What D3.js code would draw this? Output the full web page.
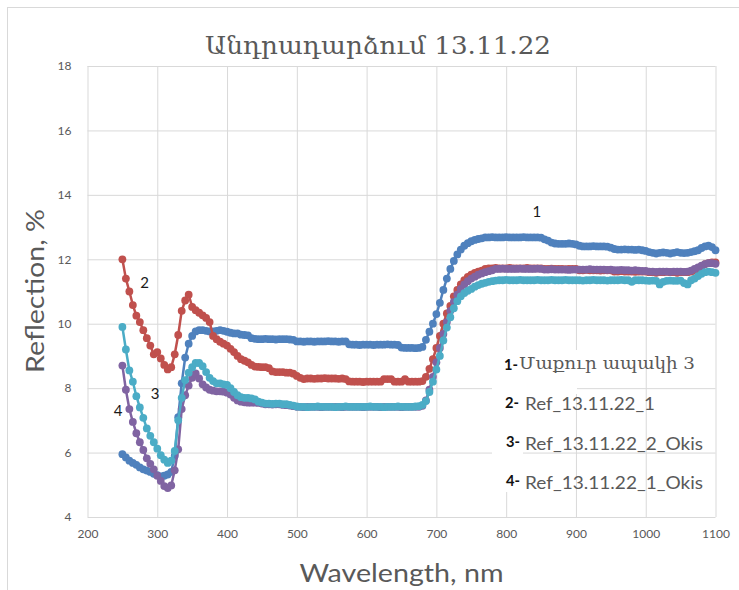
<!DOCTYPE html>
<html>
<head>
<meta charset="utf-8">
<script src="https://cdn.jsdelivr.net/npm/d3@7"></script>
<style>
  html, body { margin: 0; padding: 0; background: #fff; }
  svg { display: block; }
</style>
</head>
<body>
<svg id="chart" width="739" height="590"></svg>
<script>
// ---------------- DATA ----------------
const title = "Անդրադարձում 13.11.22";
const xTitle = "Wavelength, nm";
const yTitle = "Reflection, %";
const xTicks = [200, 300, 400, 500, 600, 700, 800, 900, 1000, 1100];
const yTicks = [4, 6, 8, 10, 12, 14, 16, 18];
const wavelengths = d3.range(250, 1101, 5);

const seriesNames = ["Մաքուր ապակի 3", "Ref_13.11.22_1", "Ref_13.11.22_2_Okis", "Ref_13.11.22_1_Okis"];

const s1 = [
  5.95,5.85,5.75,5.68,5.62,5.54,5.48,5.44,5.40,5.34,
  5.30,5.26,5.28,5.32,5.40,5.90,7.10,8.15,8.95,9.38,
  9.62,9.76,9.80,9.80,9.78,9.76,9.76,9.78,9.80,9.78,
  9.75,9.72,9.70,9.70,9.66,9.65,9.64,9.55,9.53,
  9.52,9.52,9.53,9.52,9.52,9.51,9.52,9.52,9.52,9.51,9.50,
  9.45,9.45,9.44,9.45,9.45,9.44,9.45,9.45,9.45,9.46,9.45,9.45,9.44,9.45,9.45,
  9.36,9.35,9.35,9.34,9.35,9.35,9.35,9.34,9.35,9.35,9.35,9.36,9.35,9.35,9.34,
  9.26,9.25,9.25,9.25,9.24,9.25,9.28,
  9.50,9.75,10.00,10.30,10.65,11.05,11.40,11.70,11.95,12.15,12.30,12.42,12.50,12.56,12.60,12.63,12.65,
  12.68,12.68,12.69,12.68,12.68,12.68,12.69,12.68,12.68,12.68,12.68,12.69,12.68,12.68,12.68,12.68,12.67,
  12.62,12.58,12.52,
  12.49,12.48,12.48,12.48,12.49,12.48,12.46,
  12.42,12.40,12.40,12.40,12.41,12.40,12.40,12.40,12.39,12.36,
  12.32,12.30,12.30,12.31,12.30,12.30,12.29,12.30,12.28,12.26,
  12.22,12.20,12.18,12.20,12.21,12.20,12.18,12.20,12.22,12.20,12.19,12.20,
  12.22,12.25,12.28,12.35,12.40,12.42,12.38,12.28
];

const s2 = [
  12.00,11.40,11.00,10.58,10.25,10.05,9.80,9.55,9.32,9.05,
  9.12,8.92,8.72,8.58,8.65,9.05,9.65,10.40,10.72,10.90,
  10.52,10.42,10.34,10.26,10.18,10.05,9.62,9.52,9.44,9.38,
  9.32,9.22,9.12,9.00,8.90,8.85,8.80,8.72,8.67,8.66,
  8.65,8.65,8.62,8.52,8.50,8.50,8.50,8.48,8.48,8.45,8.38,
  8.32,8.28,8.30,8.30,8.29,8.30,8.30,8.31,8.30,8.30,8.30,8.29,8.30,8.28,
  8.21,8.20,8.20,8.20,8.19,8.20,8.20,8.20,8.20,8.20,8.28,8.28,8.28,8.20,8.20,8.20,8.28,8.20,8.20,8.20,8.20,8.22,
  8.35,8.60,8.90,9.25,9.62,10.00,10.32,10.55,10.85,11.05,11.22,11.35,11.45,11.52,11.58,11.62,11.65,
  11.70,11.72,11.72,11.73,11.72,11.72,11.72,11.73,11.72,11.72,11.72,11.72,11.73,11.72,11.72,11.72,11.72,
  11.70,11.70,11.71,11.70,11.70,11.70,11.69,11.70,11.70,11.70,
  11.66,11.66,11.67,11.66,11.66,11.66,11.65,11.66,11.66,11.66,
  11.62,11.62,11.63,11.62,11.62,11.62,11.61,11.62,11.62,11.62,
  11.60,11.60,11.58,11.60,11.60,11.61,11.60,11.60,11.58,11.60,11.60,11.60,
  11.62,11.65,11.72,11.78,11.85,11.88,11.90,11.90
];

const s3 = [
  9.90,9.20,8.55,8.20,7.75,7.40,7.08,6.75,6.52,6.32,
  6.12,5.92,5.78,5.68,5.75,6.05,7.00,7.70,8.25,8.48,
  8.65,8.78,8.78,8.68,8.50,8.32,8.22,8.15,8.15,8.12,
  8.10,8.00,7.88,7.78,7.72,7.70,7.70,7.68,7.65,7.58,7.55,
  7.52,7.52,7.51,7.52,7.52,7.50,7.50,7.48,7.46,
  7.43,7.42,7.42,7.41,7.42,7.42,7.43,7.42,7.42,7.42,
  7.42,7.41,7.42,7.42,7.43,7.42,7.42,7.42,7.42,7.42,
  7.42,7.43,7.42,7.42,7.42,7.41,7.42,7.42,7.42,7.43,
  7.42,7.42,7.42,7.42,7.43,7.44,7.48,
  7.60,7.88,8.20,8.58,9.00,9.48,9.88,10.20,10.48,10.70,10.85,10.95,11.02,11.08,11.15,11.20,11.24,11.27,11.30,11.32,
  11.34,11.35,11.35,11.36,11.35,11.35,11.35,11.36,11.35,11.35,11.35,11.35,11.36,11.35,
  11.35,11.35,11.36,11.35,11.35,11.35,11.36,11.35,11.35,11.35,
  11.35,11.34,11.35,11.35,11.36,11.35,11.35,11.35,11.34,11.35,
  11.35,11.35,11.36,11.35,11.35,11.30,11.35,11.35,11.35,11.34,
  11.33,11.34,11.33,11.22,11.30,11.33,11.34,11.33,11.33,11.34,11.26,11.22,
  11.35,11.40,11.48,11.55,11.60,11.62,11.60,11.58
];

const s4 = [
  8.70,7.95,7.35,6.95,6.60,6.32,6.08,5.82,5.65,5.48,
  5.28,5.12,4.96,4.90,4.98,5.45,6.10,7.35,7.78,8.08,
  8.32,8.46,8.30,8.12,8.02,7.95,7.92,7.90,7.90,7.89,
  7.86,7.80,7.70,7.62,7.58,
  7.56,7.55,7.55,7.55,7.54,7.52,
  7.50,7.50,7.49,7.50,7.50,7.48,7.47,7.46,7.44,
  7.42,7.42,7.41,7.42,7.42,7.42,7.42,7.41,7.42,7.42,
  7.42,7.42,7.42,7.41,7.42,7.42,7.42,7.42,7.42,7.41,
  7.42,7.42,7.42,7.42,7.41,7.42,7.42,7.42,7.42,7.42,
  7.41,7.42,7.42,7.42,7.42,7.42,
  7.45,7.62,7.95,8.35,8.80,9.25,9.68,10.05,10.40,10.68,10.90,11.08,11.22,11.32,11.40,11.46,11.52,11.56,11.60,11.63,11.66,
  11.70,11.70,11.71,11.70,11.70,11.70,11.70,11.71,11.70,11.70,11.70,11.70,11.71,11.70,
  11.68,11.68,11.69,11.68,11.68,11.68,11.68,11.67,11.68,11.68,
  11.68,11.68,11.68,11.69,11.68,11.68,11.68,11.68,11.67,11.68,
  11.66,11.66,11.67,11.66,11.66,11.65,11.66,11.65,11.64,11.64,
  11.62,11.62,11.61,11.62,11.62,11.62,11.61,11.62,11.62,11.62,11.61,11.62,
  11.65,11.70,11.75,11.80,11.85,11.88,11.88,11.86
];

const colors = ["#4F81BD", "#C0504D", "#4BACC6", "#8064A2"];
// annotation labels next to curves: [label, wavelength, value]
const curveLabels = [["1", 844, 13.44], ["2", 282, 11.23], ["3", 297, 7.79], ["4", 244, 7.26]];

// ---------------- CHART ----------------
const svg = d3.select("#chart");
const W = 739, H = 590;
const plot = { left: 87.5, right: 715.5, top: 66, bottom: 517 };

svg.append("rect").attr("x", 0).attr("y", 0).attr("width", W).attr("height", H).attr("fill", "#fff");
svg.append("rect").attr("x", 7.5).attr("y", 7.5).attr("width", W + 20).attr("height", H + 20)
  .attr("fill", "none").attr("stroke", "#D9D9D9").attr("stroke-width", 1);

const x = d3.scaleLinear().domain([200, 1100]).range([plot.left, plot.right]);
const y = d3.scaleLinear().domain([4, 18]).range([plot.bottom, plot.top]);

const gridColor = "#D9D9D9";
const textColor = "#595959";

// gridlines
const gx = svg.append("g").attr("transform", `translate(0,${plot.bottom})`)
  .call(d3.axisBottom(x).tickValues(xTicks).tickSize(-(plot.bottom - plot.top)).tickFormat(""));
gx.selectAll(".tick line").attr("stroke", gridColor).attr("stroke-width", 1);
gx.select(".domain").remove();
const gy = svg.append("g").attr("transform", `translate(${plot.left},0)`)
  .call(d3.axisLeft(y).tickValues(yTicks).tickSize(-(plot.right - plot.left)).tickFormat(""));
gy.selectAll(".tick line").attr("stroke", gridColor).attr("stroke-width", 1);
gy.select(".domain").remove();

// tick labels
const xl = svg.append("g").attr("transform", `translate(0,${plot.bottom + 12})`)
  .call(d3.axisBottom(x).tickValues(xTicks).tickSize(0).tickPadding(0).tickFormat(d3.format("d")));
xl.select(".domain").remove();
xl.selectAll("text").attr("fill", textColor).style("font-family", "Lato, 'Open Sans', sans-serif").style("font-size", "12px");

const yl = svg.append("g").attr("transform", `translate(${plot.left - 16},0)`)
  .call(d3.axisLeft(y).tickValues(yTicks).tickSize(0).tickPadding(0).tickFormat(d3.format("d")));
yl.select(".domain").remove();
yl.selectAll("text").attr("fill", textColor).style("font-family", "Lato, 'Open Sans', sans-serif").style("font-size", "12px");

// series
const all = [s1, s2, s3, s4].map((vals, k) => ({ k, pts: wavelengths.map((w, i) => [w, vals[i]]) }));
const drawOrder = [0, 1, 3, 2];
const line = d3.line().x(d => x(d[0])).y(d => y(d[1]));
drawOrder.forEach(k => {
  const s = all[k];
  const g = svg.append("g");
  g.append("path").attr("d", line(s.pts)).attr("fill", "none")
    .attr("stroke", colors[k]).attr("stroke-width", 2.5).attr("stroke-linejoin", "round");
  g.selectAll("circle").data(s.pts).join("circle")
    .attr("cx", d => x(d[0])).attr("cy", d => y(d[1])).attr("r", 3.9)
    .attr("fill", colors[k]);
});

// legend-like text boxes (white background)
svg.append("rect").attr("x", 492).attr("y", 350).attr("width", 85).attr("height", 44).attr("fill", "#fff");
svg.append("rect").attr("x", 492).attr("y", 394).attr("width", 31).attr("height", 98).attr("fill", "#fff");

const numFont = "Lato, 'Open Sans', sans-serif";
const legendRows = [
  { n: "1-", t: seriesNames[0], nx: 504, ny: 370, tx: 519, ty: 369, arm: true, w: 176 },
  { n: "2-", t: seriesNames[1], nx: 505, ny: 408, tx: 525, ty: 410, arm: false, w: 130 },
  { n: "3-", t: seriesNames[2], nx: 506, ny: 447, tx: 525, ty: 450, arm: false, w: 178 },
  { n: "4-", t: seriesNames[3], nx: 506, ny: 486, tx: 525, ty: 489, arm: false, w: 178 }
];
legendRows.forEach(r => {
  svg.append("text").attr("x", r.nx).attr("y", r.ny).text(r.n)
    .attr("fill", "#111").style("font-family", numFont).style("font-size", "16px").style("font-weight", "bold")
    .attr("textLength", 14).attr("lengthAdjust", "spacingAndGlyphs");
  svg.append("text").attr("x", r.tx).attr("y", r.ty).text(r.t)
    .attr("fill", textColor)
    .style("font-family", r.arm ? "'DejaVu Serif', 'DejaVu Sans', serif" : numFont)
    .style("font-size", r.arm ? "16px" : "18px")
    .attr("textLength", r.w).attr("lengthAdjust", "spacingAndGlyphs");
});

// curve labels
curveLabels.forEach(([lab, wl, v]) => {
  svg.append("text").attr("x", x(wl)).attr("y", y(v)).text(lab)
    .attr("text-anchor", "middle").attr("dominant-baseline", "middle")
    .attr("fill", "#1a1a1a").style("font-family", numFont).style("font-size", "15px");
});

// title
svg.append("text").attr("x", 378).attr("y", 54).text(title)
  .attr("text-anchor", "middle").attr("fill", textColor)
  .style("font-family", "'DejaVu Serif', 'DejaVu Sans', serif").style("font-size", "24px")
  .attr("textLength", 346).attr("lengthAdjust", "spacingAndGlyphs");

// axis titles
svg.append("text").attr("x", (plot.left + plot.right) / 2).attr("y", 582).text(xTitle)
  .attr("text-anchor", "middle").attr("fill", textColor)
  .style("font-family", numFont).style("font-size", "25px")
  .attr("textLength", 204).attr("lengthAdjust", "spacingAndGlyphs");
svg.append("text").attr("transform", `translate(44,291) rotate(-90)`).text(yTitle)
  .attr("text-anchor", "middle").attr("fill", textColor)
  .style("font-family", numFont).style("font-size", "25px")
  .attr("textLength", 164).attr("lengthAdjust", "spacingAndGlyphs");
</script>
</body>
</html>
